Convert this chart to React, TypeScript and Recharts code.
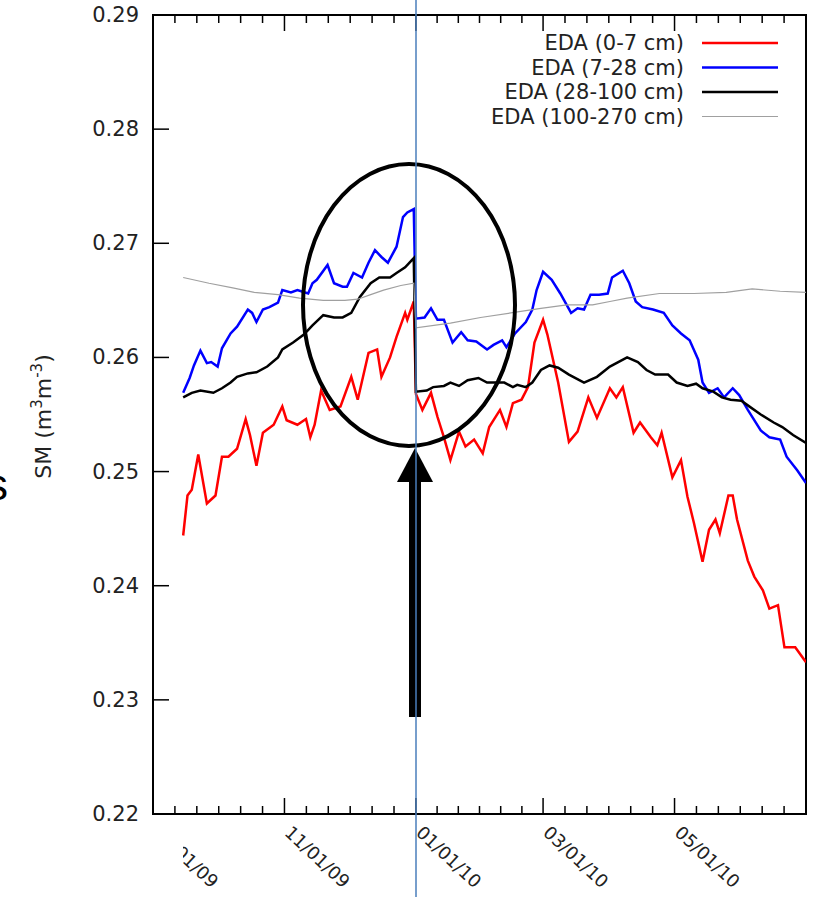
import React from 'react';
import { LineChart, Line, XAxis, YAxis, Legend, ReferenceArea } from 'recharts';

// days counted from 09/01/09
const majorDays = [0, 61, 122, 181, 242, 303];
const majorLabels = ['09/01/09', '11/01/09', '01/01/10', '03/01/10', '05/01/10', ''];
const yTicks = [0.22, 0.23, 0.24, 0.25, 0.26, 0.27, 0.28, 0.29];

const eda0_7: [number, number][] = [
  [14, 0.2444], [16, 0.2479], [18, 0.2484], [21, 0.2515], [25, 0.2472], [29, 0.2479], [32, 0.2513],
  [35, 0.2513], [39, 0.252], [43, 0.2546], [45, 0.2532], [48, 0.2505], [51, 0.2534], [56, 0.2541],
  [60, 0.2557], [62, 0.2545], [67, 0.2541], [71, 0.2546], [73, 0.253], [75, 0.2541], [78, 0.2571],
  [82, 0.2554], [87, 0.2557], [92, 0.2583], [95, 0.2563], [100, 0.2604], [104, 0.2607], [106, 0.2583],
  [110, 0.26], [113, 0.2618], [117, 0.2639], [118, 0.2633], [121, 0.2649], [122, 0.2568], [125, 0.2554],
  [129, 0.2569], [132, 0.2548], [135, 0.253], [138, 0.251], [142, 0.2535], [145, 0.2522], [149, 0.2528],
  [153, 0.2516], [156, 0.2539], [161, 0.2554], [164, 0.2539], [167, 0.256], [171, 0.2563], [174, 0.2574],
  [177, 0.2613], [181, 0.2633], [183, 0.262], [188, 0.2578], [193, 0.2526], [197, 0.2535], [202, 0.2565],
  [206, 0.2547], [212, 0.2573], [215, 0.2565], [218, 0.2574], [223, 0.2534], [226, 0.2543], [231, 0.253],
  [234, 0.2523], [236, 0.2534], [241, 0.2495], [245, 0.251], [248, 0.2478], [251, 0.2455], [255, 0.2421],
  [258, 0.2449], [261, 0.2458], [263, 0.2446], [267, 0.2479], [269, 0.2479], [271, 0.2458], [276, 0.2422],
  [279, 0.2408], [283, 0.2396], [286, 0.238], [290, 0.2383], [293, 0.2346], [298, 0.2346], [303, 0.2333],
];

const eda7_28: [number, number][] = [
  [14, 0.2569], [17, 0.2582], [19, 0.2593], [22, 0.2606], [25, 0.2595], [27, 0.2596], [30, 0.2592],
  [32, 0.2608], [36, 0.2621], [39, 0.2627], [44, 0.2642], [46, 0.2639], [48, 0.2631], [51, 0.2642],
  [54, 0.2644], [58, 0.2648], [60, 0.2659], [64, 0.2657], [67, 0.2659], [72, 0.2656], [74, 0.2665],
  [76, 0.2668], [81, 0.2681], [84, 0.2665], [88, 0.2662], [90, 0.2662], [93, 0.2674], [97, 0.267],
  [100, 0.2683], [103, 0.2694], [106, 0.2688], [109, 0.2683], [113, 0.2697], [116, 0.2723], [118, 0.2727],
  [121, 0.273], [122, 0.2634], [126, 0.2635], [129, 0.2643], [132, 0.2633], [135, 0.2633], [139, 0.2613],
  [143, 0.2622], [146, 0.2615], [150, 0.2614], [155, 0.2607], [158, 0.2611], [162, 0.2615], [164, 0.2609],
  [168, 0.2621], [173, 0.2631], [176, 0.2642], [178, 0.2659], [181, 0.2675], [185, 0.2668], [189, 0.2656],
  [194, 0.2639], [197, 0.2643], [200, 0.2642], [203, 0.2655], [207, 0.2655], [211, 0.2656], [213, 0.267],
  [218, 0.2676], [221, 0.2665], [224, 0.2649], [227, 0.2644], [232, 0.2642], [237, 0.2639], [241, 0.2628],
  [245, 0.2621], [249, 0.2615], [253, 0.2598], [255, 0.2578], [258, 0.2569], [262, 0.2573], [265, 0.2565],
  [269, 0.2573], [272, 0.2567], [276, 0.2554], [282, 0.2536], [286, 0.253], [291, 0.2528], [294, 0.2513],
  [299, 0.2501], [303, 0.249],
];

const eda28_100: [number, number][] = [
  [14, 0.2565], [18, 0.2569], [22, 0.2571], [28, 0.2569], [32, 0.2573], [36, 0.2578], [39, 0.2583],
  [44, 0.2586], [48, 0.2587], [53, 0.2592], [58, 0.26], [60, 0.2607], [65, 0.2613], [70, 0.262],
  [74, 0.2628], [79, 0.2637], [84, 0.2635], [88, 0.2635], [92, 0.2639], [96, 0.2653], [101, 0.2665],
  [105, 0.267], [110, 0.267], [113, 0.2674], [117, 0.2679], [120, 0.2685], [121, 0.2687], [122, 0.257],
  [127, 0.2571], [130, 0.2574], [135, 0.2575], [138, 0.2578], [142, 0.2575], [146, 0.258], [151, 0.2582],
  [155, 0.2578], [160, 0.2578], [163, 0.2578], [167, 0.2574], [169, 0.2576], [173, 0.2574], [176, 0.2578],
  [180, 0.2589], [184, 0.2593], [188, 0.2591], [193, 0.2585], [200, 0.2578], [206, 0.2583], [212, 0.2592],
  [220, 0.26], [225, 0.2596], [229, 0.2589], [233, 0.2585], [239, 0.2585], [243, 0.2578], [248, 0.2575],
  [252, 0.2577], [255, 0.2573], [260, 0.257], [264, 0.2565], [268, 0.2563], [273, 0.2562], [276, 0.2558],
  [282, 0.255], [288, 0.2543], [292, 0.2539], [297, 0.2532], [303, 0.2525],
];

const eda100_270: [number, number][] = [
  [14, 0.267], [26, 0.2665], [37, 0.2661], [47, 0.2657], [58, 0.2655], [68, 0.2652], [79, 0.265],
  [89, 0.265], [95, 0.2651], [101, 0.2655], [107, 0.2659], [115, 0.2663], [121, 0.2665], [122, 0.2626],
  [138, 0.263], [152, 0.2635], [166, 0.2639], [180, 0.2643], [192, 0.2646], [204, 0.2646], [212, 0.2649],
  [220, 0.2652], [235, 0.2656], [251, 0.2656], [266, 0.2657], [278, 0.266], [291, 0.2658], [303, 0.2657],
];

const series = [
  { name: 'EDA (0-7 cm)', color: '#ff0000', width: 2.5, points: eda0_7 },
  { name: 'EDA (7-28 cm)', color: '#0000ff', width: 2.5, points: eda7_28 },
  { name: 'EDA (28-100 cm)', color: '#000000', width: 2.5, points: eda28_100 },
  { name: 'EDA (100-270 cm)', color: '#a0a0a0', width: 1.2, points: eda100_270 },
];

const W = 815;
const H = 903;
const Y_AXIS_W = 60;
const X_AXIS_H = 89;
const margin = { top: 15, right: 9, bottom: 0, left: 93 };
const PLOT_H = H - margin.top - X_AXIS_H;
const FONT = '"DejaVu Sans", sans-serif';
const TEXT = '#222';

// minor ticks: five between each pair of majors
const xTicks: number[] = [];
majorDays.forEach((d, i) => {
  xTicks.push(d);
  const next = majorDays[i + 1];
  if (next !== undefined) {
    for (let k = 1; k < 6; k++) xTicks.push(d + ((next - d) * k) / 6);
  }
});

const renderXTick = (props: any) => {
  const { x, y, payload } = props;
  const i = majorDays.indexOf(payload.value);
  const len = i >= 0 ? 16 : 8;
  const lx = x - 1;
  const ly = y + 20;
  return (
    <g>
      <line x1={x} y1={y} x2={x} y2={y - len} stroke="#000" strokeWidth={1.5} />
      <line x1={x} y1={y - PLOT_H} x2={x} y2={y - PLOT_H + len} stroke="#000" strokeWidth={1.5} />
      {i >= 0 && majorLabels[i] ? (
        <text
          x={lx}
          y={ly}
          transform={`rotate(43, ${lx}, ${ly})`}
          fontSize={18}
          fontFamily={FONT}
          fill={TEXT}
        >
          {majorLabels[i]}
        </text>
      ) : null}
    </g>
  );
};

const renderYTick = (props: any) => {
  const { x, y, payload } = props;
  const axisX = x + 14;
  return (
    <g>
      <line x1={axisX} y1={y} x2={axisX + 16} y2={y} stroke="#000" strokeWidth={1.5} />
      <text x={x} y={y} textAnchor="end" dominantBaseline="central" fontSize={21} fontFamily={FONT} fill={TEXT}>
        {payload.value.toFixed(2)}
      </text>
    </g>
  );
};

const renderYLabel = (props: any) => {
  const { viewBox } = props;
  const bx = viewBox.x - 42;
  const cy = viewBox.y + viewBox.height / 2 + 2;
  return (
    <text
      transform={`translate(${bx}, ${cy}) rotate(-90)`}
      textAnchor="middle"
      fontSize={22}
      fontFamily={FONT}
      fill={TEXT}
    >
      SM (m<tspan dy={-9} fontSize={15}>3</tspan>
      <tspan dy={9}>m</tspan>
      <tspan dy={-9} fontSize={15}>-3</tspan>
      <tspan dy={9}>)</tspan>
    </text>
  );
};

// legend rows keep the series order
const renderLegend = () => (
  <svg width={320} height={100}>
    {series.map((s, i) => {
      const cy = 13 + i * 24.5;
      return (
        <g key={s.name}>
          <text x={214} y={cy} textAnchor="end" dominantBaseline="central" fontSize={21} fontFamily={FONT} fill={TEXT}>
            {s.name}
          </text>
          <line x1={232} y1={cy} x2={308} y2={cy} stroke={s.color} strokeWidth={s.width} />
        </g>
      );
    })}
  </svg>
);

export default function App() {
  return (
    <div style={{ position: 'absolute', left: 0, top: 0, width: W, height: H, background: '#fff', fontFamily: FONT }}>
      <LineChart width={W} height={H} margin={margin}>
        <XAxis
          type="number"
          dataKey="d"
          domain={[0, 303]}
          ticks={xTicks}
          interval={0}
          height={X_AXIS_H}
          tickSize={0}
          tickMargin={0}
          tickLine={false}
          tick={renderXTick}
          axisLine={{ stroke: '#000', strokeWidth: 2 }}
          allowDataOverflow
        />
        <YAxis
          type="number"
          domain={[0.22, 0.29]}
          ticks={yTicks}
          interval={0}
          width={Y_AXIS_W}
          tickSize={0}
          tickMargin={14}
          tickLine={false}
          tick={renderYTick}
          axisLine={{ stroke: '#000', strokeWidth: 2 }}
          label={{ content: renderYLabel }}
          allowDataOverflow
        />
        <ReferenceArea x1={0} x2={303} y1={0.22} y2={0.29} fill="none" stroke="#000" strokeWidth={2} />
        {series.map((s) => (
          <Line
            key={s.name}
            name={s.name}
            data={s.points.map(([d, v]) => ({ d, v }))}
            dataKey="v"
            type="linear"
            stroke={s.color}
            strokeWidth={s.width}
            dot={false}
            activeDot={false}
            isAnimationActive={false}
          />
        ))}
        <Legend
          layout="vertical"
          align="center"
          verticalAlign="middle"
          wrapperStyle={{ left: 470, top: 30, width: 320, height: 100 }}
          content={renderLegend}
        />
      </LineChart>
      {/* annotations drawn over the chart */}
      <svg width={W} height={H} style={{ position: 'absolute', left: 0, top: 0, pointerEvents: 'none' }}>
        <rect x={0} y={826} width={183} height={77} fill="#fff" />
        <text x={-14} y={500} fontSize={44} fontFamily='"Liberation Sans", sans-serif' fill="#000">
          s
        </text>
        <ellipse cx={409} cy={305} rx={106} ry={141} fill="none" stroke="#000" strokeWidth={4} />
        <polygon points="415,448 397,482 433,482" fill="#000" />
        <rect x={409} y={480} width={12} height={237} fill="#000" />
        <line x1={416} y1={0} x2={416} y2={897} stroke="#4a7ebb" strokeWidth={1.5} />
      </svg>
    </div>
  );
}
